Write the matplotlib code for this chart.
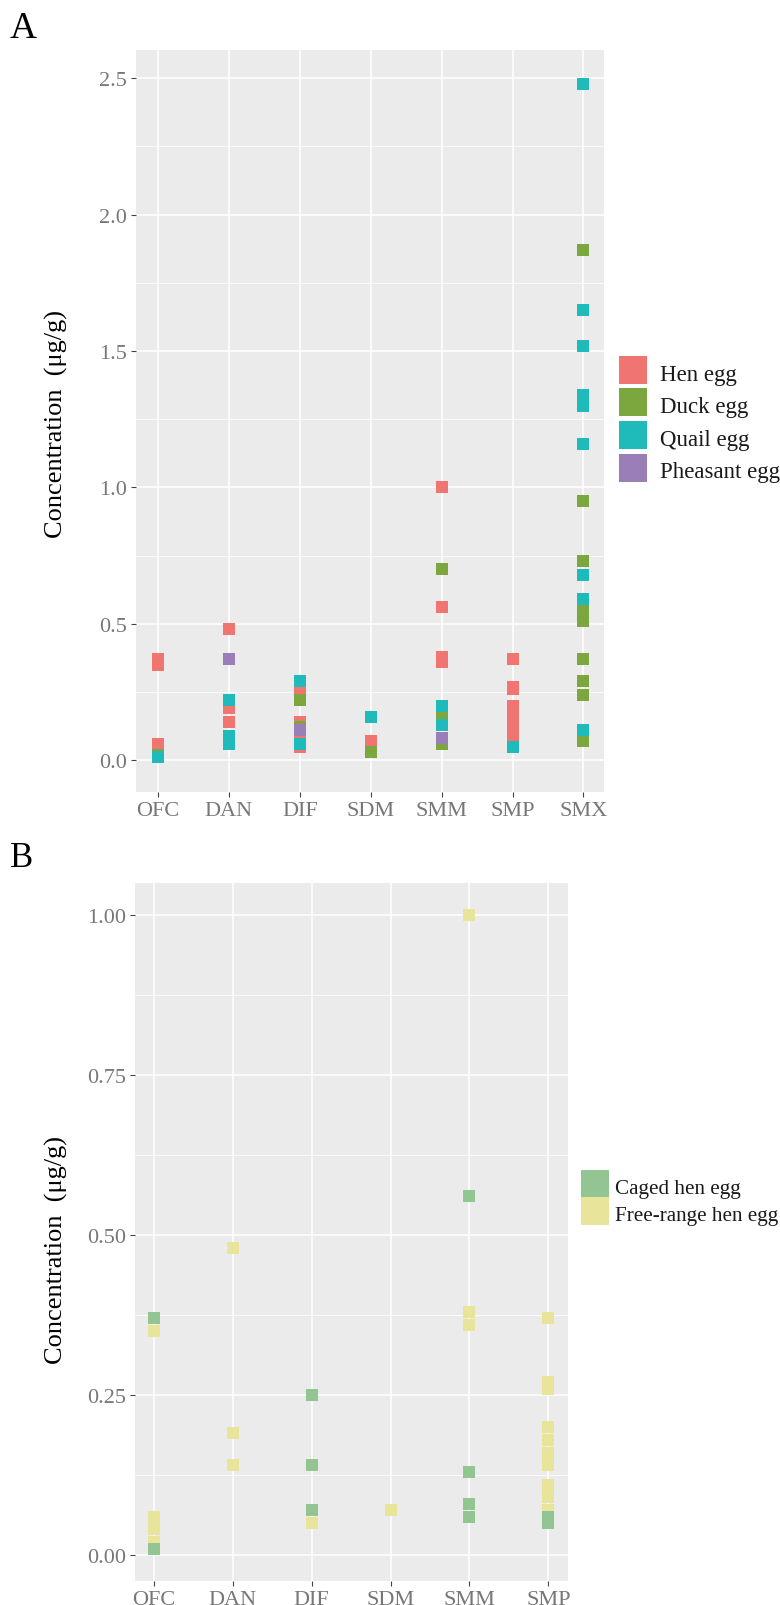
import matplotlib
matplotlib.use("Agg")
import matplotlib.pyplot as plt
from matplotlib.lines import Line2D

plt.rcParams['font.family'] = ['Liberation Serif', 'DejaVu Serif']

# panel A: concentration by egg type
cats_a = ['OFC', 'DAN', 'DIF', 'SDM', 'SMM', 'SMP', 'SMX']
hen = {'OFC': [0.37, 0.35, 0.06, 0.04, 0.02, 0.01],
       'DAN': [0.48, 0.19, 0.14],
       'DIF': [0.25, 0.14, 0.07, 0.05],
       'SDM': [0.07],
       'SMM': [1.00, 0.56, 0.38, 0.36, 0.13, 0.08, 0.06],
       'SMP': [0.37, 0.27, 0.26, 0.20, 0.18, 0.16, 0.14, 0.11, 0.09, 0.07, 0.06, 0.05]}
duck = {'OFC': [0.02],
        'DIF': [0.22, 0.12],
        'SDM': [0.03],
        'SMM': [0.70, 0.16, 0.06],
        'SMX': [1.87, 0.95, 0.73, 0.55, 0.51, 0.37, 0.29, 0.24, 0.07]}
quail = {'OFC': [0.01],
         'DAN': [0.22, 0.09, 0.06],
         'DIF': [0.29, 0.06],
         'SDM': [0.16],
         'SMM': [0.20, 0.13],
         'SMP': [0.05],
         'SMX': [2.48, 1.65, 1.52, 1.34, 1.30, 1.16, 0.68, 0.59, 0.11]}
pheasant = {'DAN': [0.37], 'DIF': [0.11], 'SMM': [0.08]}

# panel B: hen eggs by farming type
cats_b = ['OFC', 'DAN', 'DIF', 'SDM', 'SMM', 'SMP']
free_range = {'OFC': [0.35, 0.06, 0.04, 0.02],
              'DAN': [0.48, 0.19, 0.14],
              'DIF': [0.05],
              'SDM': [0.07],
              'SMM': [1.00, 0.38, 0.36],
              'SMP': [0.37, 0.27, 0.26, 0.20, 0.18, 0.16, 0.14, 0.11, 0.09, 0.07]}
caged = {'OFC': [0.37, 0.01],
         'DIF': [0.25, 0.14, 0.07],
         'SMM': [0.56, 0.13, 0.08, 0.06],
         'SMP': [0.06, 0.05]}

series_a = [('Hen egg', hen, '#F07470'), ('Duck egg', duck, '#7CA73F'),
            ('Quail egg', quail, '#1FBABA'), ('Pheasant egg', pheasant, '#9A7EB8')]
series_b = [('Free-range hen egg', free_range, '#E8E59A'), ('Caged hen egg', caged, '#93C593')]
legend_b_order = ['Caged hen egg', 'Free-range hen egg']

W, H = 780, 1606
fig = plt.figure(figsize=(W / 100, H / 100), dpi=100)

def box(l, r, t, b):
    return [l / W, 1 - b / H, (r - l) / W, (b - t) / H]

ax_a = fig.add_axes(box(136, 604, 51, 793))
ax_b = fig.add_axes(box(135, 568, 884, 1582))

msize = 8.6  # square side in points

def style(ax, cats, ylim, major, minor, fmt):
    ax.set_facecolor('#EBEBEB')
    for s in ax.spines.values():
        s.set_visible(False)
    ax.set_ylim(*ylim)
    ax.set_xticks(range(len(cats)))
    ax.set_xticklabels(cats)
    ax.set_yticks(major)
    ax.set_yticklabels([fmt.format(v) for v in major])
    ax.set_yticks(minor, minor=True)
    ax.tick_params(which='major', length=3.5, width=0.8, color='#444444',
                   labelsize=16, labelcolor='#777777', pad=3)
    ax.tick_params(which='minor', length=0)
    ax.grid(which='major', color='white', linewidth=1.1)
    ax.grid(which='minor', axis='y', color='white', linewidth=0.55)
    ax.set_axisbelow(True)

def draw(ax, cats, series):
    for name, data, col in series:
        xs, ys = [], []
        for c, vals in data.items():
            xs += [cats.index(c)] * len(vals)
            ys += vals
        ax.scatter(xs, ys, s=msize ** 2, marker='s', color=col, linewidths=0, zorder=3)

style(ax_a, cats_a, (-0.1165, 2.6035), [0, 0.5, 1.0, 1.5, 2.0, 2.5],
      [0.25, 0.75, 1.25, 1.75, 2.25], '{:.1f}')
draw(ax_a, cats_a, series_a)
ax_a.set_xlim(-0.31, 6.29)

style(ax_b, cats_b, (-0.0405, 1.0495), [0, 0.25, 0.5, 0.75, 1.0],
      [0.125, 0.375, 0.625, 0.875], '{:.2f}')
draw(ax_b, cats_b, series_b)
ax_b.set_xlim(-0.24, 5.25)

ylab = 'Concentration  (\u03bcg/g)'
fig.text(56 / W, 1 - 424 / H, ylab, rotation=90, ha='center', va='center', fontsize=19)
fig.text(56 / W, 1 - 1250 / H, ylab, rotation=90, ha='center', va='center', fontsize=19)

fig.text(10 / W, 1 - 12 / H, 'A', fontsize=27, ha='left', va='top')
fig.text(10 / W, 1 - 842 / H, 'B', fontsize=25, ha='left', va='top')

# legends
h_a = [Line2D([], [], ls='', marker='s', markersize=20.5, color=c, markeredgewidth=0)
       for _, _, c in series_a]
fig.legend(h_a, [n for n, _, _ in series_a], loc='upper left',
           bbox_to_anchor=(619 / W, 1 - 361 / H), frameon=False, fontsize=16.5,
           borderpad=0, borderaxespad=0, handlelength=1.24, handleheight=1.24,
           labelspacing=0.34, handletextpad=0.55, labelcolor='#1a1a1a')

col_b = {n: c for n, _, c in series_b}
h_b = [Line2D([], [], ls='', marker='s', markersize=19.5, color=col_b[n], markeredgewidth=0)
       for n in legend_b_order]
fig.legend(h_b, legend_b_order, loc='upper left',
           bbox_to_anchor=(581 / W, 1 - 1176 / H), frameon=False, fontsize=15.2,
           borderpad=0, borderaxespad=0, handlelength=1.28, handleheight=1.28,
           labelspacing=0.16, handletextpad=0.35, labelcolor='#1a1a1a')

fig.savefig('out.png', dpi=100)
